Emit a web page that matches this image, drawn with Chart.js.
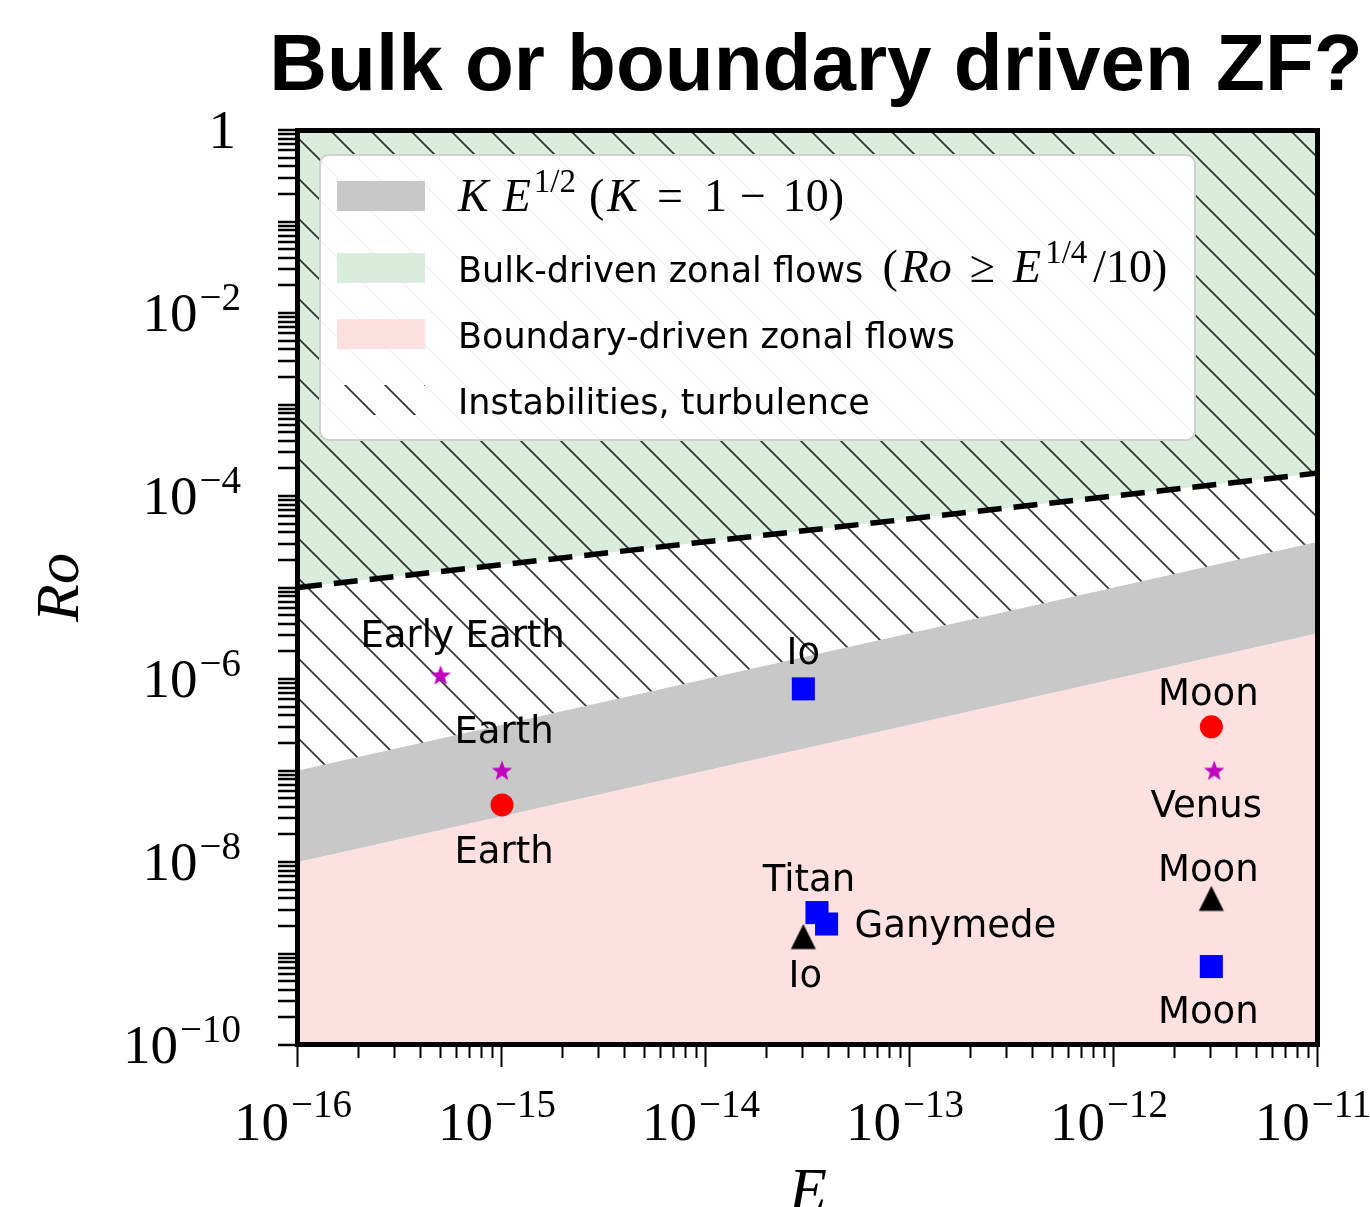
<!DOCTYPE html>
<html>
<head>
<meta charset="utf-8">
<title>Bulk or boundary driven ZF?</title>
<script src="https://cdn.jsdelivr.net/npm/chart.js@4.4.1/dist/chart.umd.min.js"></script>
<style>
  html, body { margin: 0; padding: 0; background: #ffffff; }
  #wrap { width: 1370px; height: 1207px; position: relative; }
</style>
</head>
<body>
<div id="wrap"><canvas id="regime"></canvas></div>
<script>
// ---- regime boundaries, given at the two ends of the Ekman range ----
const eEnds = [1e-16, 1e-11];
const bulkThreshold = [1e-5, 1.78e-4];   // Ro = E^(1/4)/10
const bandLow = [1e-8, 3.16e-6];         // K E^(1/2), K = 1
const bandHigh = [1e-7, 3.16e-5];        // K E^(1/2), K = 10

// ---- bodies ----
const starE = [5e-16, 1e-15, 3.1e-12];
const starRo = [1.1e-6, 1e-7, 1e-7];
const starNames = ['Early Earth', 'Earth', 'Venus'];

const circleE = [1e-15, 3e-12];
const circleRo = [4.2e-8, 3e-7];
const circleNames = ['Earth', 'Moon'];

const squareE = [3e-14, 3e-12, 3.5e-14, 3.9e-14];
const squareRo = [7.8e-7, 7.2e-10, 2.8e-9, 2.1e-9];
const squareNames = ['Io', 'Moon', 'Titan', 'Ganymede'];

const triangleE = [3e-14, 3e-12];
const triangleRo = [1.53e-9, 4e-9];
const triangleNames = ['Io', 'Moon'];

// ---- axes ----
const xDecades = [-16, -15, -14, -13, -12, -11];
const yDecades = [-10, -9, -8, -7, -6, -5, -4, -3, -2, -1, 0];
const xLabelExps = [-16, -15, -14, -13, -12, -11];
const yLabelExps = [0, -2, -4, -6, -8, -10];

const SANS = '"DejaVu Sans", sans-serif';
const SERIF = '"Liberation Serif", serif';

const GREEN = 'rgb(218, 236, 219)';
const PINK = 'rgb(253, 224, 224)';
const GRAY = 'rgb(200, 200, 200)';

// label placement next to each marker: text anchor offset (px) and alignment
const starLabelPos = [{dx: 22, dy: -28, align: 'center'}, {dx: 2, dy: -28, align: 'center'}, {dx: -8, dy: 46, align: 'center'}];
const circleLabelPos = [{dx: 2, dy: 58, align: 'center'}, {dx: -3, dy: -22, align: 'center'}];
const squareLabelPos = [{dx: 0, dy: -25, align: 'center'}, {dx: -3, dy: 56, align: 'center'}, {dx: -8, dy: -22, align: 'center'}, {dx: 28, dy: 13, align: 'left'}];
const triangleLabelPos = [{dx: 2, dy: 50, align: 'center'}, {dx: -3, dy: -17, align: 'center'}];

const pairs = (xs, ys) => xs.map((x, i) => ({x: x, y: ys[i]}));

// marker sprites
function starSprite(color) {
  const s = 26, c = document.createElement('canvas');
  c.width = c.height = s;
  const g = c.getContext('2d');
  g.fillStyle = color;
  const R = 10.8, r = 4.5, cx = s / 2, cy = s / 2 + 0.8;
  g.beginPath();
  for (let i = 0; i < 10; i++) {
    const a = -Math.PI / 2 + i * Math.PI / 5;
    const rr = i % 2 ? r : R;
    g.lineTo(cx + rr * Math.cos(a), cy + rr * Math.sin(a));
  }
  g.closePath();
  g.fill();
  return c;
}
function triangleSprite(color) {
  const s = 28, c = document.createElement('canvas');
  c.width = c.height = s;
  const g = c.getContext('2d');
  g.fillStyle = color;
  g.beginPath();
  g.moveTo(14, 1.5);
  g.lineTo(26.5, 26.5);
  g.lineTo(1.5, 26.5);
  g.closePath();
  g.fill();
  return c;
}
function hatchPattern(ctx) {
  const P = 40, c = document.createElement('canvas');
  c.width = c.height = P;
  const g = c.getContext('2d');
  g.strokeStyle = 'rgba(25, 25, 25, 0.9)';
  g.lineWidth = 1.6;
  for (let k = -1; k <= 1; k++) {
    g.beginPath();
    g.moveTo(k * P - 2, -2);
    g.lineTo(k * P + P + 2, P + 2);
    g.stroke();
  }
  return ctx.createPattern(c, 'repeat');
}

const canvas = document.getElementById('regime');
const ctx0 = canvas.getContext('2d');
const HATCH = hatchPattern(ctx0);

function decadeTicks(decades) {
  const out = [];
  const last = decades[decades.length - 1];
  for (const e of decades) {
    for (let m = 1; m <= 9; m++) {
      if (e === last && m > 1) break;
      out.push({value: m * Math.pow(10, e), major: m === 1});
    }
  }
  return out;
}

// draws "10" with a raised exponent
function powerLabel(ctx, exp, x, y, align, baseSize, supSize, supRaise) {
  const base = exp === 0 ? '1' : '10';
  const sup = exp === 0 ? '' : '\u2212' + Math.abs(exp);
  ctx.font = baseSize + 'px ' + SERIF;
  const wb = ctx.measureText(base).width;
  ctx.font = supSize + 'px ' + SERIF;
  const ws = sup ? ctx.measureText(sup).width + 2 : 0;
  const total = wb + ws;
  const x0 = align === 'right' ? x - total : x - total / 2;
  ctx.textAlign = 'left';
  ctx.textBaseline = 'alphabetic';
  ctx.font = baseSize + 'px ' + SERIF;
  ctx.fillText(base, x0, y);
  if (sup) {
    ctx.font = supSize + 'px ' + SERIF;
    ctx.fillText(sup, x0 + wb + 2, y - supRaise);
  }
}

function drawRuns(ctx, x, y, runs) {
  ctx.textAlign = 'left';
  ctx.textBaseline = 'alphabetic';
  for (const r of runs) {
    ctx.font = r.font;
    ctx.fillText(r.text, x, y + (r.dy || 0));
    x += ctx.measureText(r.text).width + (r.gap || 0);
  }
  return x;
}

const decor = {
  id: 'decor',
  afterDatasetsDraw(chart) {
    const ctx = chart.ctx;
    ctx.save();
    ctx.fillStyle = '#000';
    ctx.textBaseline = 'alphabetic';
    ctx.font = '37px ' + SANS;
    chart.data.datasets.forEach((ds, i) => {
      if (!ds.names) return;
      const meta = chart.getDatasetMeta(i);
      meta.data.forEach((pt, j) => {
        const p = ds.namePos[j];
        ctx.textAlign = p.align;
        ctx.fillText(ds.names[j], pt.x + p.dx, pt.y + p.dy);
      });
    });
    ctx.restore();
  },
  afterDraw(chart) {
    const ctx = chart.ctx;
    const ca = chart.chartArea;
    const xs = chart.scales.x, ys = chart.scales.y;
    ctx.save();

    // frame
    ctx.strokeStyle = '#000';
    ctx.lineWidth = 5;
    ctx.strokeRect(ca.left - 0.5, ca.top + 0.5, ca.right - ca.left, ca.bottom - ca.top - 1);

    // tick marks
    ctx.lineWidth = 2;
    ctx.beginPath();
    for (const t of xs.ticks) {
      const px = Math.round(xs.getPixelForValue(t.value)) - 0.5;
      const len = t.major ? 20 : 11;
      ctx.moveTo(px, ca.bottom + 2);
      ctx.lineTo(px, ca.bottom + 2 + len);
    }
    ctx.stroke();
    ctx.lineWidth = 2.6;
    ctx.beginPath();
    for (const t of ys.ticks) {
      const py = Math.round(ys.getPixelForValue(t.value));
      ctx.moveTo(ca.left - 3, py);
      ctx.lineTo(ca.left - 20, py);
    }
    ctx.stroke();

    // tick labels
    ctx.fillStyle = '#000';
    for (const e of xLabelExps) {
      const px = xs.getPixelForValue(Math.pow(10, e));
      powerLabel(ctx, e, px - 5, 1140, 'center', 55, 39, 23);
    }
    for (const e of yLabelExps) {
      const py = ys.getPixelForValue(Math.pow(10, e));
      powerLabel(ctx, e, e === 0 ? 236 : 241, py + 18, 'right', 55, 39, 21);
    }

    // axis titles
    ctx.font = 'italic 62px ' + SERIF;
    ctx.textAlign = 'center';
    ctx.textBaseline = 'alphabetic';
    ctx.fillText('E', (ca.left + ca.right) / 2, 1210);
    ctx.save();
    ctx.translate(78, (ca.top + ca.bottom) / 2);
    ctx.rotate(-Math.PI / 2);
    ctx.fillText('Ro', 0, 0);
    ctx.restore();

    // legend
    const L = {x: 320, y: 155, w: 875, h: 285};
    ctx.beginPath();
    ctx.roundRect(L.x, L.y, L.w, L.h, 9);
    ctx.fillStyle = 'rgba(255,255,255,0.94)';
    ctx.fill();
    ctx.strokeStyle = '#d0d0d0';
    ctx.lineWidth = 2;
    ctx.stroke();

    const px = 337, pw = 88, ph = 30;
    const rows = [196, 268, 334, 400];
    ctx.fillStyle = GRAY; ctx.fillRect(px, rows[0] - ph / 2, pw, ph);
    ctx.fillStyle = GREEN; ctx.fillRect(px, rows[1] - ph / 2, pw, ph);
    ctx.fillStyle = PINK; ctx.fillRect(px, rows[2] - ph / 2, pw, ph);
    ctx.fillStyle = HATCH; ctx.fillRect(px, rows[3] - ph / 2, pw, ph);

    ctx.fillStyle = '#000';
    const tx = 458;
    const it = 'italic 46px ' + SERIF, rm = '46px ' + SERIF, sp = '33px ' + SERIF, sa = '35px ' + SANS;
    drawRuns(ctx, tx, rows[0] + 15, [
      {text: 'K', font: it, gap: 14},
      {text: 'E', font: it, gap: 3},
      {text: '1/2', font: sp, dy: -19, gap: 13},
      {text: '(', font: rm, gap: 3},
      {text: 'K', font: it, gap: 19},
      {text: '=', font: rm, gap: 21},
      {text: '1', font: rm, gap: 13},
      {text: '\u2212', font: rm, gap: 17},
      {text: '10)', font: rm}
    ]);
    drawRuns(ctx, tx, rows[1] + 14, [
      {text: 'Bulk-driven zonal flows ', font: sa, gap: 8},
      {text: '(', font: rm, gap: 3},
      {text: 'Ro', font: it, gap: 18},
      {text: '\u2265', font: rm, gap: 18},
      {text: 'E', font: it, gap: 4},
      {text: '1/4', font: sp, dy: -19, gap: 6},
      {text: '/10)', font: rm}
    ]);
    drawRuns(ctx, tx, rows[2] + 14, [{text: 'Boundary-driven zonal flows', font: sa}]);
    drawRuns(ctx, tx, rows[3] + 14, [{text: 'Instabilities, turbulence', font: sa}]);

    // title
    ctx.font = 'bold 80px "Liberation Sans", Arial, sans-serif';
    ctx.textAlign = 'center';
    ctx.textBaseline = 'alphabetic';
    ctx.fillText('Bulk or boundary driven ZF?', 816, 90);

    ctx.restore();
  }
};

const boundary = (data, extra) => Object.assign({
  type: 'line',
  data: data,
  borderWidth: 0,
  borderColor: 'rgba(0,0,0,0)',
  pointRadius: 0,
  pointHoverRadius: 0,
  tension: 0
}, extra);

const starImg = starSprite('#bf00bf');
const triImg = triangleSprite('#000000');

new Chart(canvas, {
  type: 'scatter',
  data: {
    datasets: [
      // 0: bulk-driven region above the threshold
      boundary(pairs(eEnds, bulkThreshold), {fill: 'end', backgroundColor: GREEN, order: 20}),
      // 1: boundary-driven region below the band
      boundary(pairs(eEnds, bandLow), {fill: 'start', backgroundColor: PINK, order: 19}),
      // 2: K E^(1/2) band
      boundary(pairs(eEnds, bandHigh), {fill: {target: 1}, backgroundColor: GRAY, order: 18}),
      // 3: instabilities hatch above the band
      boundary(pairs(eEnds, bandHigh), {fill: 'end', backgroundColor: HATCH, order: 17}),
      // 4: threshold line
      boundary(pairs(eEnds, bulkThreshold), {fill: false, borderWidth: 5.5, borderColor: '#000', borderDash: [24, 12], order: 16}),
      {
        data: pairs(starE, starRo), names: starNames, namePos: starLabelPos,
        pointStyle: starImg, pointRadius: 12, pointHoverRadius: 12, order: 4
      },
      {
        data: pairs(circleE, circleRo), names: circleNames, namePos: circleLabelPos,
        pointStyle: 'circle', pointRadius: 11.5, pointHoverRadius: 11.5,
        backgroundColor: '#ff0000', borderColor: '#ff0000', borderWidth: 0, order: 3
      },
      {
        data: pairs(squareE, squareRo), names: squareNames, namePos: squareLabelPos,
        pointStyle: 'rect', pointRadius: 16.3, pointHoverRadius: 16.3,
        backgroundColor: '#0000ff', borderColor: '#0000ff', borderWidth: 0, order: 2
      },
      {
        data: pairs(triangleE, triangleRo), names: triangleNames, namePos: triangleLabelPos,
        pointStyle: triImg, pointRadius: 14, pointHoverRadius: 14, order: 1
      }
    ]
  },
  options: {
    responsive: true,
    maintainAspectRatio: false,
    animation: false,
    events: [],
    layout: {padding: {top: 130, right: 52, bottom: 0, left: 0}},
    plugins: {
      legend: {display: false},
      title: {display: false},
      tooltip: {enabled: false}
    },
    scales: {
      x: {
        type: 'logarithmic',
        min: 1e-16, max: 1e-11,
        grid: {display: false},
        border: {display: false},
        ticks: {display: false},
        afterBuildTicks: (s) => { s.ticks = decadeTicks(xDecades); },
        afterFit: (s) => { s.height = 162; }
      },
      y: {
        type: 'logarithmic',
        min: 1e-10, max: 1,
        grid: {display: false},
        border: {display: false},
        ticks: {display: false},
        afterBuildTicks: (s) => { s.ticks = decadeTicks(yDecades); },
        afterFit: (s) => { s.width = 298; }
      }
    }
  },
  plugins: [decor]
});
</script>
</body>
</html>
